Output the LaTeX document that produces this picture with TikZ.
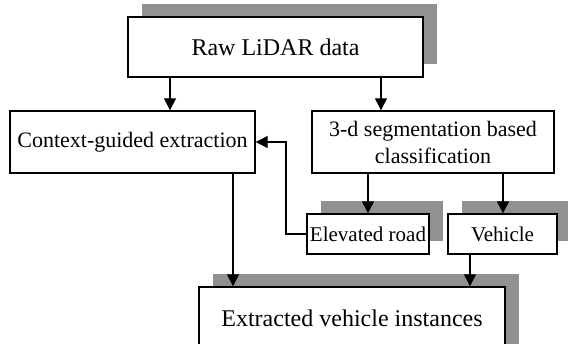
\documentclass[tikz,border=0pt]{standalone}
\usepackage{fontspec}
\setmainfont{Liberation Serif}
\usetikzlibrary{arrows.meta,shadows}
\definecolor{shadowgray}{RGB}{145,145,145}
\tikzset{
  box/.style={draw=black, line width=1.4pt, fill=white, inner sep=0pt,
    drop shadow={shadow xshift=14pt, shadow yshift=13pt, fill=shadowgray, opacity=1}},
  plainbox/.style={draw=black, line width=1.4pt, fill=white, inner sep=0pt},
  arr/.style={line width=1.3pt, -{Triangle[length=12pt,width=12pt]}},
  big/.style={font=\fontsize{24}{28}\selectfont},
  mid/.style={font=\fontsize{22}{27}\selectfont},
  small/.style={font=\fontsize{21}{25}\selectfont},
}
\begin{document}
\begin{tikzpicture}[x=1pt,y=-1pt]
\useasboundingbox (0,0) rectangle (568,344);
\clip (0,0) rectangle (568,344);
\node[box, big, minimum width=295pt, minimum height=60pt] (raw) at (275.5,47) {Raw LiDAR data};
\node[plainbox, mid, minimum width=245pt, minimum height=62pt] (ctx) at (132.5,142) {Context-guided extraction};
\node[plainbox, mid, minimum width=242pt, minimum height=62pt, align=center] (seg) at (433,142) {3-d segmentation based\\classification};
\node[box, small, minimum width=122pt, minimum height=40pt] (elev) at (368,234) {Elevated road};
\node[box, small, minimum width=109pt, minimum height=40pt] (veh) at (502.5,234) {Vehicle};
\node[box, big, minimum width=306pt, minimum height=90pt, text depth=0pt] (ext) at (352,332) {};
\node[big] (extt) at (352,318) {Extracted vehicle instances};
\coordinate (xa) at (170,0);
\coordinate (xb) at (381,0);
\coordinate (xc) at (368,0);
\coordinate (xd) at (503,0);
\coordinate (xe) at (233,0);
\coordinate (xf) at (470,0);
\coordinate (xg) at (286,0);
\draw[arr] (raw.south -| xa) -- (ctx.north -| xa);
\draw[arr] (raw.south -| xb) -- (seg.north -| xb);
\draw[arr] (seg.south -| xc) -- (elev.north -| xc);
\draw[arr] (seg.south -| xd) -- (veh.north -| xd);
\draw[arr] (elev.west) -- (elev.west -| xg) -- (ctx.east -| xg) -- (ctx.east);
\draw[arr] (ctx.south -| xe) -- (ext.north -| xe);
\draw[arr] (veh.south -| xf) -- (ext.north -| xf);
\end{tikzpicture}
\end{document}
